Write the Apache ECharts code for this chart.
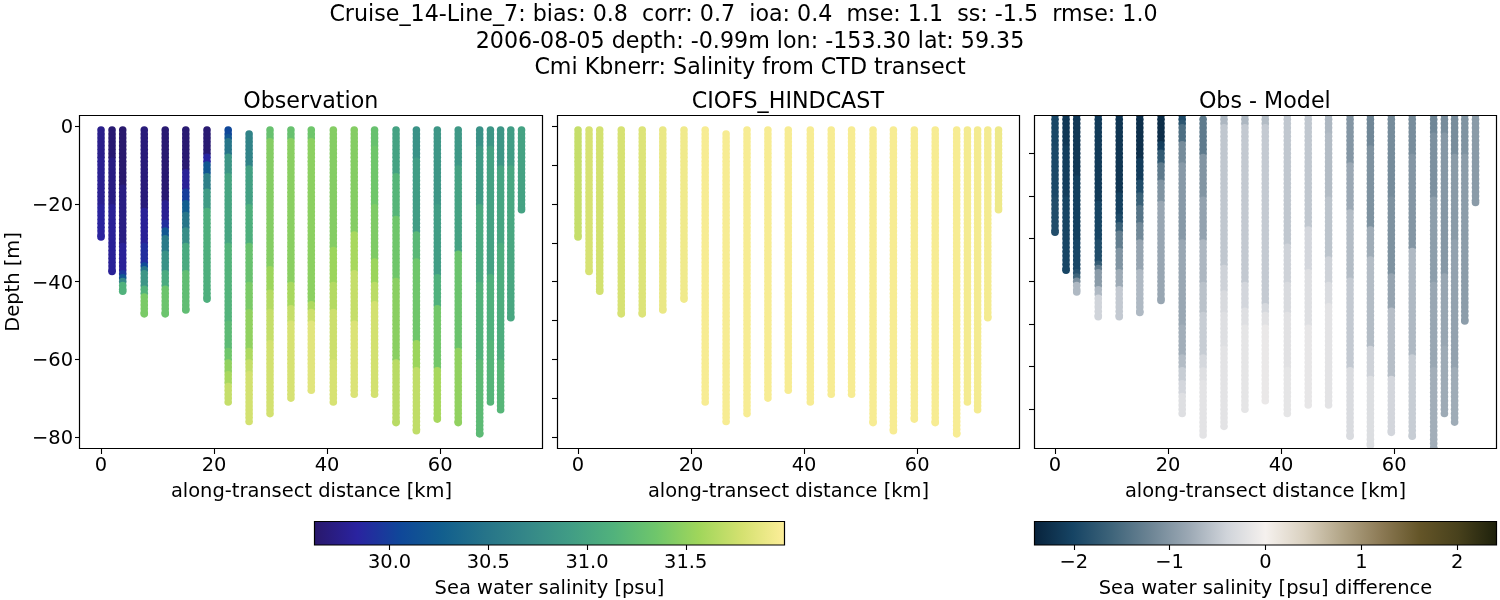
<!DOCTYPE html>
<html><head><meta charset="utf-8">
<style>html,body{margin:0;padding:0;background:#fff}#c{width:1500px;height:600px}</style>
<script src="https://cdn.jsdelivr.net/npm/echarts@6/dist/echarts.min.js"></script>
</head><body><div id="c"></div>
<script>
const titleLines = ['Cruise_14-Line_7: bias: 0.8  corr: 0.7  ioa: 0.4  mse: 1.1  ss: -1.5  rmse: 1.0','2006-08-05 depth: -0.99m lon: -153.30 lat: 59.35','Cmi Kbnerr: Salinity from CTD transect'];
const panelTitles = ['Observation','CIOFS_HINDCAST','Obs - Model'];
const castKm = [0,1.95,3.84,7.65,11.36,15,18.75,22.5,26.2,29.9,33.6,37.2,41.1,44.8,48.4,52.2,55.8,59.5,63.2,67,68.9,70.7,72.5,74.4];
const castTop = [0.99,0.99,0.99,0.99,0.99,0.99,0.99,0.99,2,0.99,0.99,0.99,0.99,0.99,0.99,0.99,0.99,0.99,0.99,0.99,0.99,0.99,0.99,0.99];
// Each band: [down to depth (m), salinity (psu)]
const obsBands = [
 [[8,29.75],[20,29.78],[28.5,29.83]],
 [[8,29.65],[20,29.72],[37.4,29.8]],
 [[15,29.63],[30,29.72],[37,29.8],[38,29.95],[39,30.2],[40,30.7],[42.5,31.13]],
 [[21,29.68],[30,29.8],[35,29.9],[36,30.1],[37.5,30.5],[41,30.85],[43.5,31.15],[48.3,31.4]],
 [[19,29.65],[24,29.78],[26,29.9],[28.5,30.2],[32,30.55],[37,30.8],[41,31.05],[48.3,31.33]],
 [[11.2,29.65],[16.4,29.8],[19,30.0],[22,30.25],[26,30.5],[30,30.75],[37,31.05],[47.3,31.25]],
 [[7.7,29.65],[9,29.85],[12,30.2],[16.4,30.6],[21.5,30.9],[44.5,31.1]],
 [[2,30.05],[3.5,30.2],[7,30.5],[12,30.85],[30,31.0],[50,31.15],[57,31.22],[60,31.35],[63,31.5],[66,31.6],[71,31.72]],
 [[10,30.65],[20,30.95],[30,31.1],[40,31.3],[47,31.4],[57,31.5],[60,31.62],[63,31.72],[76,31.78]],
 [[3,31.3],[36,31.45],[42,31.55],[47,31.65],[55,31.72],[74,31.78]],
 [[3,31.3],[40,31.47],[46,31.6],[50,31.72],[70,31.8]],
 [[3,31.35],[45,31.48],[47,31.62],[50,31.75],[68,31.85]],
 [[31,31.45],[40,31.55],[47,31.65],[60,31.75],[71,31.8]],
 [[27,31.45],[37,31.6],[50,31.72],[69,31.82]],
 [[5,31.3],[20,31.35],[34,31.42],[40,31.55],[45,31.68],[69,31.78]],
 [[12,30.97],[23,31.17],[39,31.35],[60,31.47],[76.3,31.67]],
 [[8,30.8],[27,30.92],[34,31.2],[55,31.35],[62,31.55],[78.4,31.7]],
 [[20,30.85],[38,30.92],[46,31.12],[62,31.37],[75.4,31.6]],
 [[10,30.87],[32,30.97],[57,31.32],[76.3,31.5]],
 [[5,30.8],[20,30.9],[40,31.05],[60,31.15],[79.2,31.22]],
 [[5,30.85],[38,30.97],[55,31.12],[71,31.17]],
 [[10,30.85],[30,31.0],[60,31.08],[73,31.18]],
 [[10,30.92],[49.3,31.02]],
 [[21.5,30.97]]
];
const modelBands = [
 [[28.5,31.72]],[[37.4,31.8]],[[42.5,31.78]],[[48.3,31.8]],[[48.3,31.83]],[[47.3,31.9]],[[44.5,31.93]],
 [[71,31.97]],[[76,31.97]],[[74,31.97]],[[70,31.97]],[[68,31.97]],[[71,31.97]],[[69,31.97]],[[69,31.97]],
 [[76.3,31.97]],[[78.4,31.97]],[[75.4,31.97]],[[76.3,31.97]],[[79.2,31.97]],[[71,31.95]],[[73,31.95]],[[49.3,31.95]],[[21.5,31.92]]
];
const salColors = ['rgb(41,24,107)','rgb(42,35,160)','rgb(15,71,153)','rgb(18,95,142)','rgb(38,116,137)','rgb(53,136,136)','rgb(65,157,133)','rgb(81,178,124)','rgb(111,198,107)','rgb(160,214,91)','rgb(212,225,112)','rgb(253,238,153)'];
const diffColors = ['rgb(8,35,60)','rgb(22,68,100)','rgb(62,100,122)','rgb(108,132,148)','rgb(155,168,180)','rgb(208,212,218)','rgb(245,241,238)','rgb(218,209,192)','rgb(178,165,135)','rgb(140,122,85)','rgb(100,85,40)','rgb(72,65,28)','rgb(30,33,12)'];
const salRange = [29.62,32.0];
const diffRange = [-2.41,2.41];
const salTicks = [30.0,30.5,31.0,31.5];
const diffTicks = [-2,-1,0,1,2];
const xTicks = [0,20,40,60];
const yTicksLabelled = [0,-20,-40,-60,-80];
const yTicksMiddle = [0,-10,-20,-30,-40,-50,-60,-70,-80];
const yTicksRight = [-10,-20,-30,-40,-50,-60,-70];

const font = 'DejaVu Sans', fs = 19.44, titleFs = 22.2, minus = v => String(v).replace('-', '\u2212');
function bandValue(bands, d){ for (const b of bands) if (d <= b[0] + 1e-6) return b[1]; return bands[bands.length-1][1]; }
function buildPoints(fn){
  const pts = [];
  castKm.forEach((km,i) => {
    const bottom = obsBands[i][obsBands[i].length-1][0];
    const ds = []; for (let d = castTop[i]; d <= bottom; d += 1) ds.push(d);
    if (bottom - ds[ds.length-1] > 0.2) ds.push(bottom);
    ds.forEach(d => pts.push([km, -d, fn(i,d)]));
  });
  return pts;
}
const obsPts = buildPoints((i,d) => bandValue(obsBands[i], d));
const modPts = buildPoints((i,d) => bandValue(modelBands[i], d));
const diffPts = buildPoints((i,d) => +(bandValue(obsBands[i], d) - bandValue(modelBands[i], d)).toFixed(3));

const lefts = [80,557,1034], W = 463, TOP = 115, H = 334;
const yCfg = [
 {min:-83.1,max:2.9,ticks:yTicksLabelled,labels:true},
 {min:-83.1,max:2.9,ticks:yTicksMiddle,labels:false},
 {min:-79.3,max:-1.0,ticks:yTicksRight,labels:false}
];
const grids = lefts.map(l => ({left:l,top:TOP,width:W,height:H,show:false}));
grids.push({left:314.5,top:521.5,width:470,height:23.5,show:false});
grids.push({left:1034.5,top:521.5,width:462,height:23.5,show:false});
const tickSty = {show:true,length:5,lineStyle:{color:'#000',width:1.1}};
const hiddenLine = {show:false,onZero:false};
const xAxes = lefts.map((l,i) => ({
  type:'value',gridIndex:i,min:-3.72,max:78.2,scale:true,splitLine:{show:false},axisLine:hiddenLine,
  axisTick:{...tickSty,customValues:xTicks},
  axisLabel:{show:true,customValues:xTicks,color:'#000',fontFamily:font,fontSize:fs,margin:7,formatter:v=>minus(v)},
  name:'along-transect distance [km]',nameLocation:'middle',nameGap:33,nameTextStyle:{color:'#000',fontFamily:font,fontSize:fs}
}));
const yAxes = yCfg.map((c,i) => ({
  type:'value',gridIndex:i,min:c.min,max:c.max,scale:true,splitLine:{show:false},axisLine:hiddenLine,
  axisTick:{...tickSty,customValues:c.ticks},
  axisLabel:{show:c.labels,customValues:c.ticks,color:'#000',fontFamily:font,fontSize:fs,margin:7,formatter:v=>'{a|'+minus(v)+'}',
    rich:{a:{color:'#000',fontFamily:font,fontSize:fs,padding:[4,0,0,0]}}},
  name:c.labels?'Depth [m]':'',nameLocation:'middle',nameGap:57,nameTextStyle:{color:'#000',fontFamily:font,fontSize:fs}
}));
[[salRange,salTicks,3,'Sea water salinity [psu]'],[diffRange,diffTicks,4,'Sea water salinity [psu] difference']].forEach(([r,t,g,n]) => {
  xAxes.push({type:'value',gridIndex:g,min:r[0],max:r[1],scale:true,splitLine:{show:false},axisLine:hiddenLine,
    axisTick:{...tickSty,customValues:t},
    axisLabel:{show:true,customValues:t,color:'#000',fontFamily:font,fontSize:fs,margin:8.5,formatter:v=>g===3?v.toFixed(1):minus(v)},
    name:n,nameLocation:'middle',nameGap:34,nameTextStyle:{color:'#000',fontFamily:font,fontSize:fs}});
  yAxes.push({type:'value',gridIndex:g,min:0,max:1,show:false});
});
const scat = (i,pts) => ({type:'custom',xAxisIndex:i,yAxisIndex:i,data:pts,clip:true,silent:true,animation:false,encode:{x:0,y:1},dimensions:['km','depth','value'],
  renderItem:(p,api)=>{
    const c = api.coord([api.value(0),api.value(1)]);
    return {type:'circle',shape:{cx:c[0],cy:c[1],r:3.8},style:{fill:api.visual('color')}};
  }});
const bar = (g,r,cols) => ({type:'custom',xAxisIndex:g,yAxisIndex:g,silent:true,animation:false,data:[[r[0],r[1]]],clip:true,
  renderItem:(p,api)=>{
    const a = api.coord([r[0],0]), b = api.coord([r[1],1]);
    return {type:'rect',shape:{x:a[0],y:b[1],width:b[0]-a[0],height:a[1]-b[1]},
      style:{fill:new echarts.graphic.LinearGradient(0,0,1,0,cols.map((c,i)=>({offset:i/(cols.length-1),color:c})))}};
  }});
const titles = titleLines.map((t,i)=>({text:t,left:[738.5,745,745][i],top:[10,37,63][i],textAlign:'center',textVerticalAlign:'middle',textStyle:{fontFamily:font,fontSize:titleFs,fontWeight:'normal',color:'#000'}}));
panelTitles.forEach((t,i)=>titles.push({text:t,left:lefts[i]+W/2-5.7,top:97,textAlign:'center',textVerticalAlign:'middle',textStyle:{fontFamily:font,fontSize:titleFs,fontWeight:'normal',color:'#000'}}));
const frameBoxes = [[79.5,115.5,463,333],[557.5,115.5,462,333],[1034.5,115.5,462,333],[314.5,521.5,470,23.5],[1034.5,521.5,462,23.5]];
const frames = frameBoxes.map(b=>({type:'rect',z:50,silent:true,shape:{x:b[0],y:b[1],width:b[2],height:b[3]},style:{fill:'none',stroke:'#000',lineWidth:1.2}}));
const chart = echarts.init(document.getElementById('c'),null,{renderer:'canvas'});
chart.setOption({
  animation:false,backgroundColor:'#fff',title:titles,grid:grids,xAxis:xAxes,yAxis:yAxes,graphic:frames,
  visualMap:[
    {show:false,type:'continuous',seriesIndex:[0,1],dimension:2,min:salRange[0],max:salRange[1],inRange:{color:salColors}},
    {show:false,type:'continuous',seriesIndex:2,dimension:2,min:diffRange[0],max:diffRange[1],inRange:{color:diffColors}}
  ],
  series:[scat(0,obsPts),scat(1,modPts),scat(2,diffPts),bar(3,salRange,salColors),bar(4,diffRange,diffColors)]
});
</script></body></html>
